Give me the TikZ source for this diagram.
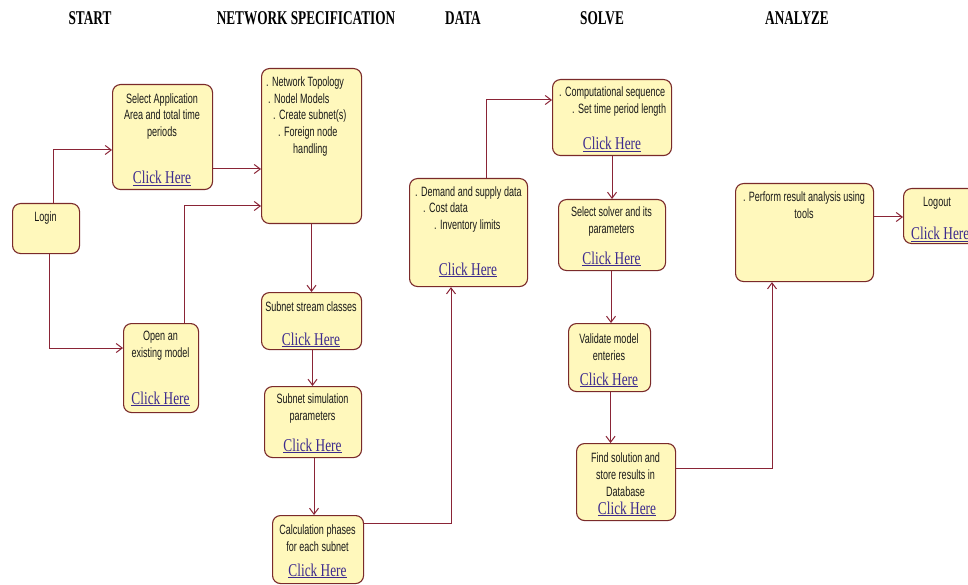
\documentclass[tikz,border=0pt]{standalone}
\usepackage{fontspec}
\setmainfont{Liberation Sans}[FakeStretch=0.67]
\newfontfamily\headfont{Liberation Serif}[FakeStretch=0.68]
\newfontfamily\linkfont{Liberation Serif}[FakeStretch=0.74]
\usetikzlibrary{arrows.meta,calc}

\definecolor{boxfill}{HTML}{FFF8BC}
\definecolor{boxline}{HTML}{7A2A2A}
\definecolor{flow}{HTML}{8A2436}
\definecolor{linkcol}{HTML}{3C2A8E}

\tikzset{
  box/.style={draw=boxline, fill=boxfill, line width=1.1pt, rounded corners=8pt,
              anchor=north west, inner sep=0pt},
  txt/.style={font=\fontsize{13.5}{16.7}\selectfont, text=black!90, inner sep=0pt, align=center},
  ltxt/.style={txt, align=left, anchor=west},
  link/.style={font=\linkfont\fontsize{18}{20}\selectfont, text=linkcol, inner sep=0pt, anchor=base},
  head/.style={font=\headfont\bfseries\fontsize{19.5}{22}\selectfont, inner sep=0pt},
  arr/.style={draw=flow, line width=1pt, -{Straight Barb[length=6pt,width=9pt]}}
}
\newcommand{\clickhere}{\underline{Click Here}}

\begin{document}
\begin{tikzpicture}[x=1pt, y=-1pt]
\clip (0,0) rectangle (968,585);
\fill[white] (0,0) rectangle (968,585);

% column headings
\node[head] (hStart) at (90,18) {START};
\node[head] (hNet) at (306,18) {NETWORK SPECIFICATION};
\node[head] (hData) at (463,18) {DATA};
\node[head] (hSolve) at (602,18) {SOLVE};
\node[head] (hAnalyze) at (797,18) {ANALYZE};

% boxes
\node[box, minimum width=67pt,  minimum height=50pt]  (login)  at (12,203) {};
\node[box, minimum width=100pt, minimum height=105pt] (sel)    at (112,84) {};
\node[box, minimum width=75pt,  minimum height=89pt]  (open)   at (123,323) {};
\node[box, minimum width=100pt, minimum height=155pt] (net)    at (261,68) {};
\node[box, minimum width=100pt, minimum height=57pt]  (stream) at (261,292) {};
\node[box, minimum width=97pt,  minimum height=71pt]  (sim)    at (264,386) {};
\node[box, minimum width=91pt,  minimum height=68pt]  (calc)   at (272,515) {};
\node[box, minimum width=118pt, minimum height=108pt] (demand) at (409,178) {};
\node[box, minimum width=119pt, minimum height=76pt]  (comp)   at (552,79) {};
\node[box, minimum width=107pt, minimum height=71pt]  (solver) at (558,199) {};
\node[box, minimum width=82pt,  minimum height=68pt]  (valid)  at (568,323) {};
\node[box, minimum width=99pt,  minimum height=77pt]  (find)   at (576,443) {};
\node[box, minimum width=138pt, minimum height=98pt]  (perf)   at (735,183) {};
\node[box, minimum width=72pt,  minimum height=55pt]  (logout) at (903,188) {};

% box texts
\node[txt] (login-t) at (45.5,218) {Login};
\node[txt] (sel-t) at (162,116.5) {Select Application\\Area and total time\\periods};
\node[link] (sel-c) at (162,184) {\clickhere};
\node[txt] (open-t) at (160.5,346) {Open an\\existing model};
\node[link] (open-c) at (160.5,404) {\clickhere};
\node[ltxt] (net-t) at (266,116.5) {. Network Topology\\\hspace*{2pt}. Nodel Models\\\hspace*{7pt}. Create subnet(s)\\\hspace*{12pt}. Foreign node\\\hspace*{27pt}handling};
\node[txt] (stream-t) at (311,307) {Subnet stream classes};
\node[link] (stream-c) at (311,345) {\clickhere};
\node[txt] (sim-t) at (312.5,408.5) {Subnet simulation\\parameters};
\node[link] (sim-c) at (312.5,451) {\clickhere};
\node[txt] (calc-t) at (317.5,538) {Calculation phases\\for each subnet};
\node[link] (calc-c) at (317.5,576) {\clickhere};
\node[ltxt] (demand-t) at (415,209.5) {. Demand and supply data\\\hspace*{8pt}. Cost data\\\hspace*{19pt}. Inventory limits};
\node[link] (demand-c) at (468,275) {\clickhere};
\node[ltxt] (comp-t) at (559,101.5) {. Computational sequence\\\hspace*{13pt}. Set time period length};
\node[link] (comp-c) at (612,150) {\clickhere};
\node[txt] (solver-t) at (611.5,221.5) {Select solver and its\\parameters};
\node[link] (solver-c) at (611.5,264) {\clickhere};
\node[txt] (valid-t) at (609,347.5) {Validate model\\enteries};
\node[link] (valid-c) at (609,385) {\clickhere};
\node[txt] (find-t) at (625.5,474.5) {Find solution and\\store results in\\Database};
\node[link] (find-c) at (627,514) {\clickhere};
\node[txt] (perf-t) at (804,205) {. Perform result analysis using\\tools};
\node[txt] (logout-t) at (937,203) {Logout};
\node[link, anchor=base west] (logout-c) at (911,240) {\clickhere};

% connectors
\draw[arr] ($(login.north west)+(41,0)$) |- ($(sel.north west)+(0,66)$);
\draw[arr] ($(login.south west)+(37,0)$) |- ($(open.north west)+(0,25)$);
\draw[arr] ($(sel.north east)+(0,85)$) -- ($(net.north west)+(0,101)$);
\draw[arr] ($(open.north west)+(61,0)$) |- ($(net.north west)+(0,138)$);
\draw[arr] (net.south) -- (stream.north);
\draw[arr] ($(stream.south)+(1,0)$) -- ($(stream.south |- sim.north)+(1,0)$);
\draw[arr] ($(sim.south)+(1,0)$) -- ($(sim.south |- calc.north)+(1,0)$);
\draw[arr] ($(calc.north east)+(0,8)$) -| ($(demand.south west)+(42,0)$);
\draw[arr] ($(demand.north west)+(77,0)$) |- ($(comp.north west)+(0,21)$);
\draw[arr] (comp.south) -- (solver.north);
\draw[arr] ($(solver.south)+(-1,0)$) -- ($(solver.south |- valid.north)+(-1,0)$);
\draw[arr] ($(valid.south)+(1,0)$) -- ($(valid.south |- find.north)+(1,0)$);
\draw[arr] ($(find.north east)+(0,25)$) -| ($(perf.south west)+(37,0)$);
\draw[arr] ($(perf.north east)+(0,34)$) -- ($(logout.north west)+(0,29)$);
\end{tikzpicture}
\end{document}
